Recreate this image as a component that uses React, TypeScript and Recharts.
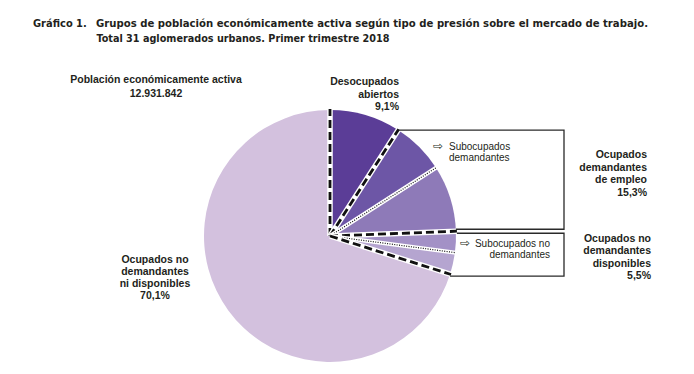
import { PieChart, Pie, Cell } from "recharts";

// Composición de la PEA, % (lectura aproximada del gráfico)
const categories = [
  "Desocupados abiertos",
  "Subocupados demandantes",
  "Otros ocupados demandantes",
  "Subocupados no demandantes",
  "Otros ocupados no demandantes disponibles",
  "Ocupados no demandantes ni disponibles",
];
const shares = [9.1, 6.8, 8.5, 2.7, 2.8, 70.1];

const titleLines = [
  "Gráfico 1.",
  "Grupos de población económicamente activa según tipo de presión sobre el mercado de trabajo.",
  "Total 31 aglomerados urbanos. Primer trimestre 2018",
];
const peaLabel = ["Población económicamente activa", "12.931.842"];
const desocLabel = ["Desocupados", "abiertos", "9,1%"];
const subDemLabel = ["Subocupados", "demandantes"];
const ocDemLabel = ["Ocupados", "demandantes", "de empleo", "15,3%"];
const subNoDemLabel = ["Subocupados no", "demandantes"];
const ocDispLabel = ["Ocupados no", "demandantes", "disponibles", "5,5%"];
const ocNiDispLabel = ["Ocupados no", "demandantes", "ni disponibles", "70,1%"];

const sliceColors = ["#5b3d97", "#6d56a6", "#8e7ab8", "#a391c6", "#b5a5d0", "#d3c1de"];
// separación entre sectores: guiones entre grupos, puntos dentro de grupo
const boundaryKinds = ["dashed", "dashed", "dotted", "dashed", "dotted", "dashed"];
const boxGroups = [
  [1, 2],
  [3, 4],
];
const BOX_RIGHT = 564;
const TEXT = "#231f20";
const SANS = "'Liberation Sans', Arial, Helvetica, sans-serif";

const RAD = Math.PI / 180;
const polar = (cx: number, cy: number, r: number, a: number) => ({
  x: cx + r * Math.cos(-a * RAD),
  y: cy + r * Math.sin(-a * RAD),
});

function Lines({ lines, x, y, lh, anchor = "start", bold = true, size = 10.5 }: any) {
  return (
    <text x={x} fontFamily={SANS} fontSize={size} fontWeight={bold ? 700 : 400} fill={TEXT} textAnchor={anchor}>
      {lines.map((t: string, i: number) => (
        <tspan key={i} x={x} y={y + i * lh}>
          {t}
        </tspan>
      ))}
    </text>
  );
}

export default function App() {
  const data = categories.map((name, i) => ({ name, value: shares[i] }));
  const geo: any[] = [];

  const renderMarks = (p: any) => {
    geo[p.index] = p;
    const { cx, cy, outerRadius, startAngle } = p;
    const end = polar(cx, cy, outerRadius + 1, startAngle);
    const dashed = boundaryKinds[p.index] === "dashed";
    let boxes = null;
    if (p.index === data.length - 1) {
      boxes = boxGroups.map(([a, b], k) => {
        const s = geo[a];
        const e = geo[b];
        if (!s || !e) return null;
        const p1 = polar(s.cx, s.cy, s.outerRadius, s.startAngle);
        const p2 = polar(e.cx, e.cy, e.outerRadius, e.endAngle);
        const y1 = p1.y + (k === 0 ? 0 : 2);
        const y2 = p2.y + (k === 0 ? -2 : 2);
        return (
          <path
            key={k}
            d={`M${p1.x + 1},${y1}H${BOX_RIGHT}V${y2}H${p2.x}`}
            fill="none"
            stroke="#2a2a2a"
            strokeWidth={1.3}
          />
        );
      });
    }
    return (
      <g>
        <line x1={cx} y1={cy} x2={end.x} y2={end.y} stroke="#fff" strokeWidth={dashed ? 5.5 : 4} />
        <line
          x1={cx}
          y1={cy}
          x2={end.x}
          y2={end.y}
          stroke="#111"
          strokeWidth={dashed ? 2.8 : 1.2}
          strokeDasharray={dashed ? "8 4" : "1 1.4"}
        />
        {boxes}
      </g>
    );
  };

  return (
    <div style={{ position: "absolute", left: 0, top: 0, width: 694, height: 374, background: "#fff" }}>
      <PieChart width={694} height={374} margin={{ top: 0, right: 0, bottom: 0, left: 0 }}>
        <Pie
          data={data}
          dataKey="value"
          nameKey="name"
          cx={330}
          cy={236}
          outerRadius={126}
          startAngle={90}
          endAngle={-270}
          stroke="none"
          label={renderMarks}
          labelLine={false}
          isAnimationActive={false}
        >
          {data.map((d, i) => (
            <Cell key={d.name} fill={sliceColors[i]} />
          ))}
        </Pie>
      </PieChart>
      <svg
        width={694}
        height={374}
        style={{ position: "absolute", left: 0, top: 0, pointerEvents: "none" }}
      >
        <g fontFamily="'Liberation Sans Narrow', 'DejaVu Sans Condensed', Arial, sans-serif" fontWeight={700} fontSize={11} fill={TEXT}>
          <text x={33} y={27}>{titleLines[0]}</text>
          <text x={96} y={27} textLength={552} lengthAdjust="spacingAndGlyphs">
            {titleLines[1]}
          </text>
          <text x={96.5} y={42} textLength={293} lengthAdjust="spacingAndGlyphs">
            {titleLines[2]}
          </text>
        </g>
        <Lines lines={peaLabel} x={156} y={83} lh={13.5} anchor="middle" />
        <Lines lines={desocLabel} x={399} y={85} lh={12.5} anchor="end" />
        <Lines lines={ocDemLabel} x={647} y={158} lh={12.5} anchor="end" />
        <Lines lines={ocDispLabel} x={651} y={241.5} lh={12.5} anchor="end" />
        <Lines lines={ocNiDispLabel} x={155} y={262.5} lh={12.3} anchor="middle" />
        <text x={433} y={150} fontFamily="'DejaVu Sans', sans-serif" fontSize={12} fill={TEXT}>⇨</text>
        <Lines lines={subDemLabel} x={449} y={150} lh={11} bold={false} size={10} />
        <text x={460} y={247} fontFamily="'DejaVu Sans', sans-serif" fontSize={12} fill={TEXT}>⇨</text>
        <Lines lines={subNoDemLabel} x={550} y={247} lh={11} anchor="end" bold={false} size={10} />
      </svg>
    </div>
  );
}
